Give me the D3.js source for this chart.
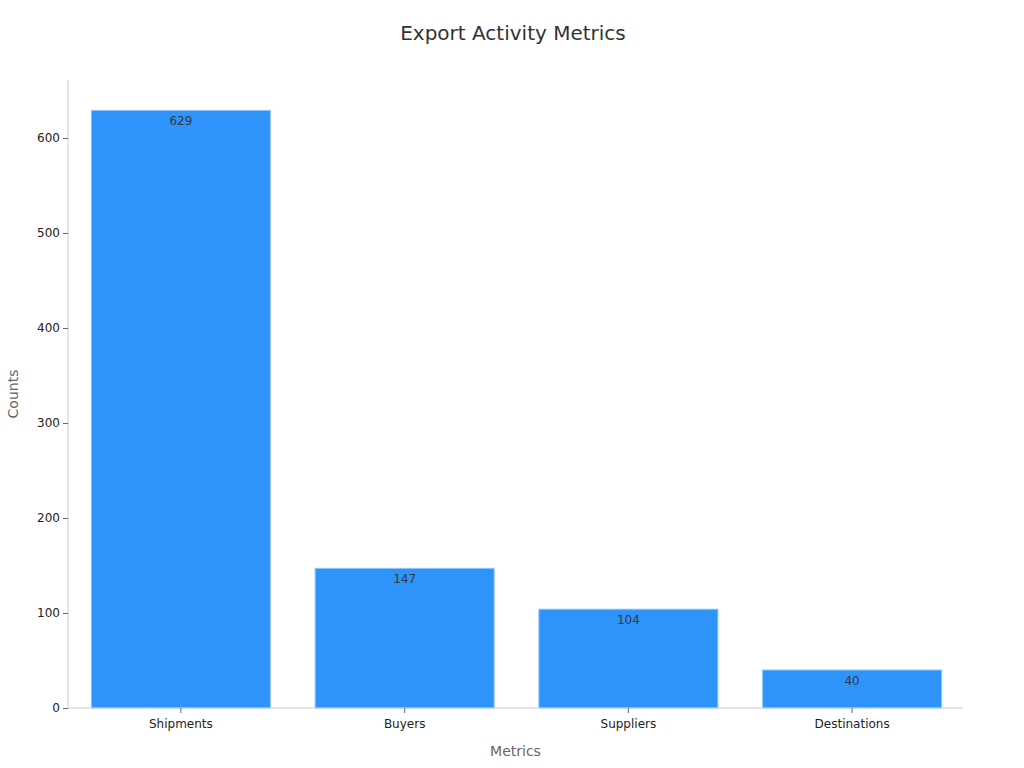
<!DOCTYPE html>
<html>
<head>
<meta charset="utf-8">
<script src="https://cdn.jsdelivr.net/npm/d3@7"></script>
<style>
  body { margin: 0; background: #fff; font-family: "DejaVu Sans", sans-serif; }
</style>
</head>
<body>
<script>
var categories = ["Shipments", "Buyers", "Suppliers", "Destinations"];
var counts = [629, 147, 104, 40];
var yTicks = [0, 100, 200, 300, 400, 500, 600];

var w = 1024, h = 768;
var plotLeft = 68, plotRight = 963, plotTop = 80, plotBottom = 708;

var svg = d3.select("body").append("svg").attr("width", w).attr("height", h);

var x = d3.scaleBand().domain(categories).range([plotLeft + 1, plotRight + 1])
  .paddingInner(0.2).paddingOuter(0.1);
var y = d3.scaleLinear().domain([0, 661]).range([plotBottom, plotTop]);

// title
svg.append("text").attr("x", 513).attr("y", 40).attr("text-anchor", "middle")
  .attr("font-size", 20).attr("fill", "#333").text("Export Activity Metrics");

// bars
svg.selectAll("rect.bar").data(counts).enter().append("rect")
  .attr("class", "bar")
  .attr("x", function(d, i) { return x(categories[i]); })
  .attr("y", function(d) { return y(d); })
  .attr("width", x.bandwidth())
  .attr("height", function(d) { return y(0) - y(d); })
  .attr("fill", "#2e93fa")
  .attr("stroke", "#8cc5fb").attr("stroke-width", 1);

// value labels
svg.selectAll("text.val").data(counts).enter().append("text")
  .attr("class", "val")
  .attr("x", function(d, i) { return x(categories[i]) + x.bandwidth() / 2; })
  .attr("y", function(d) { return y(d) + 15; })
  .attr("text-anchor", "middle").attr("font-size", 12).attr("fill", "#3a3a3a")
  .text(function(d) { return d; });

// y axis
var yAxis = svg.append("g").attr("transform", "translate(" + plotLeft + ",0)")
  .call(d3.axisLeft(y).tickValues(yTicks).tickSize(5).tickPadding(3).tickSizeOuter(0));
yAxis.select(".domain").attr("stroke", "#ccc").attr("d", "M0," + plotTop + "V" + plotBottom);
yAxis.selectAll(".tick line").attr("stroke", "#666");
yAxis.selectAll(".tick text").attr("font-size", 12).attr("fill", "#222")
  .attr("font-family", "DejaVu Sans, sans-serif");

// x axis
var xAxis = svg.append("g").attr("transform", "translate(0," + plotBottom + ")")
  .call(d3.axisBottom(x).tickSize(5).tickPadding(6).tickSizeOuter(0));
xAxis.select(".domain").attr("stroke", "#ccc").attr("d", "M" + plotLeft + ",0H" + plotRight);
xAxis.selectAll(".tick line").attr("stroke", "#666");
xAxis.selectAll(".tick text").attr("font-size", 12).attr("fill", "#222")
  .attr("font-family", "DejaVu Sans, sans-serif");

// axis titles
svg.append("text").attr("x", (plotLeft + plotRight) / 2).attr("y", 756).attr("text-anchor", "middle")
  .attr("font-size", 14).attr("fill", "#666").text("Metrics");
svg.append("text").attr("transform", "translate(18," + 394 + ") rotate(-90)")
  .attr("text-anchor", "middle").attr("font-size", 14).attr("fill", "#666").text("Counts");
</script>
</body>
</html>
